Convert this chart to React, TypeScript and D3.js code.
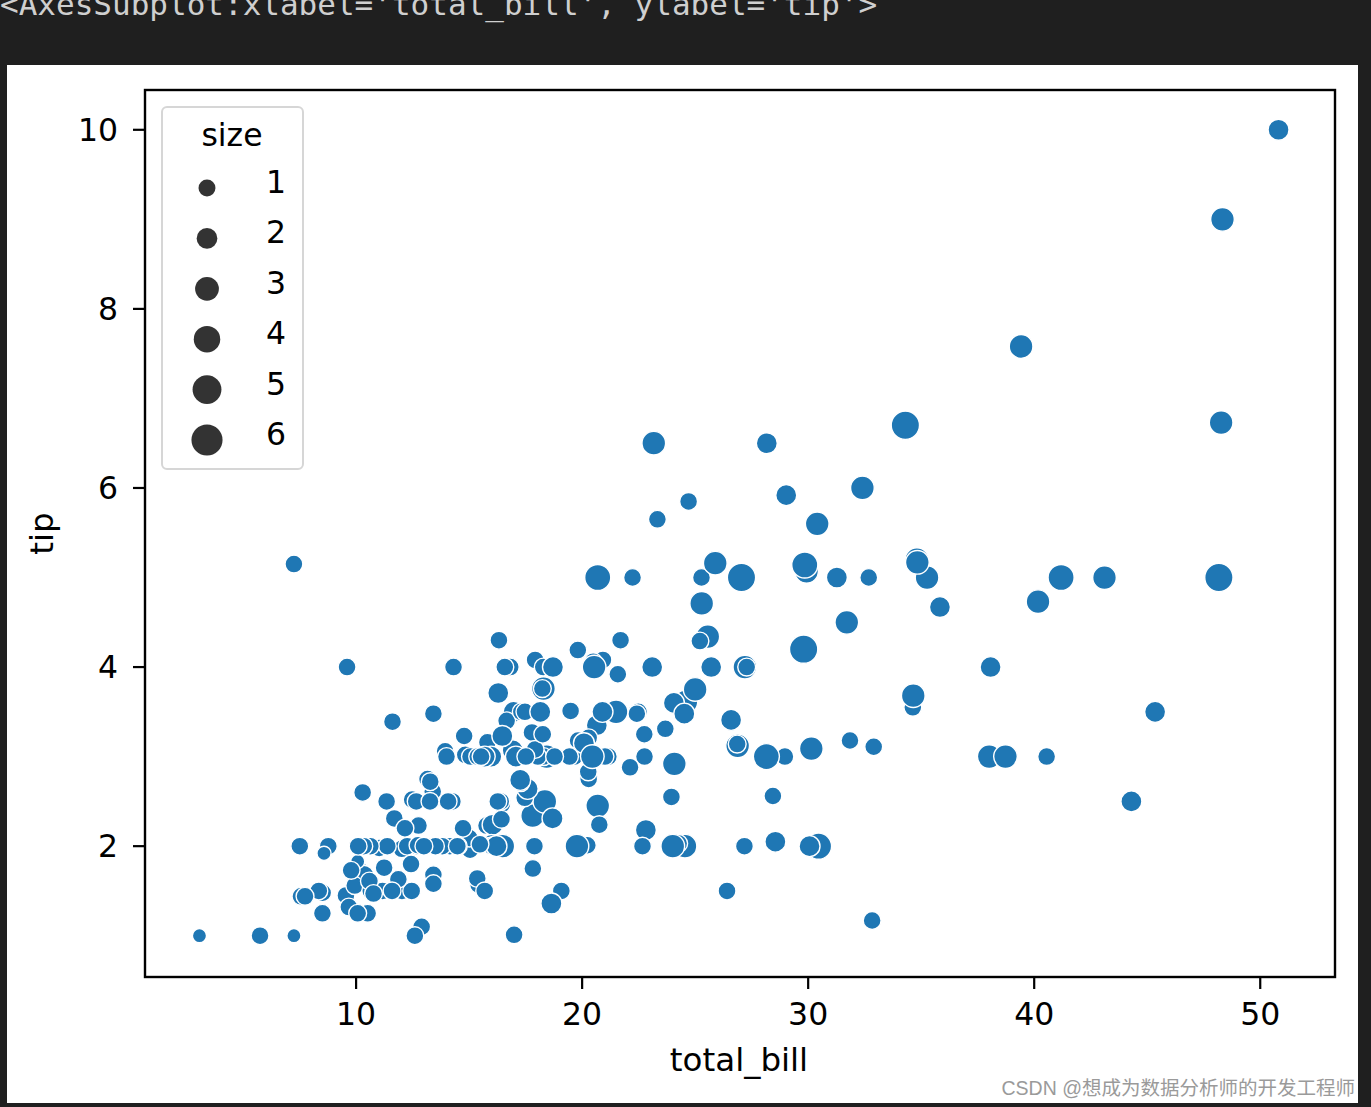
import React from "react";
import * as d3 from "d3";

const totalBill: number[] = [
  16.99, 10.34, 21.01, 23.68, 24.59, 25.29, 8.77, 26.88, 15.04, 14.78,
  10.27, 35.26, 15.42, 18.43, 14.83, 21.58, 10.33, 16.29, 16.97, 20.65,
  17.92, 20.29, 15.77, 39.42, 19.82, 17.81, 13.37, 12.69, 21.7, 19.65,
  9.55, 18.35, 15.06, 20.69, 17.78, 24.06, 16.31, 16.93, 18.69, 31.27,
  16.04, 17.46, 13.94, 9.68, 30.4, 18.29, 22.23, 32.4, 28.55, 18.04,
  12.54, 10.29, 34.81, 9.94, 25.56, 19.49, 38.01, 26.41, 11.24, 48.27,
  20.29, 13.81, 11.02, 18.29, 17.59, 20.08, 16.45, 3.07, 20.23, 15.01,
  12.02, 17.07, 26.86, 25.28, 14.73, 10.51, 17.92, 27.2, 22.76, 17.29,
  19.44, 16.66, 10.07, 32.68, 15.98, 34.83, 13.03, 18.28, 24.71, 21.16,
  28.97, 22.49, 5.75, 16.32, 22.75, 40.17, 27.28, 12.03, 21.01, 12.46,
  11.35, 15.38, 44.3, 22.42, 20.92, 15.36, 20.49, 25.21, 18.24, 14.31,
  14.0, 7.25, 38.07, 23.95, 25.71, 17.31, 29.93, 10.65, 12.43, 24.08,
  11.69, 13.42, 14.26, 15.95, 12.48, 29.8, 8.52, 14.52, 11.38, 22.82,
  19.08, 20.27, 11.17, 12.26, 18.26, 8.51, 10.33, 14.15, 16.0, 13.16,
  17.47, 34.3, 41.19, 27.05, 16.43, 8.35, 18.64, 11.87, 9.78, 7.51,
  14.07, 13.13, 17.26, 24.55, 19.77, 29.85, 48.17, 25.0, 13.39, 16.49,
  21.5, 12.66, 16.21, 13.81, 17.51, 24.52, 20.76, 31.71, 10.59, 10.63,
  50.81, 15.81, 7.25, 31.85, 16.82, 32.9, 17.89, 14.48, 9.6, 34.63,
  34.65, 23.33, 45.35, 23.17, 40.55, 20.69, 20.9, 30.46, 18.15, 23.1,
  15.69, 19.81, 28.44, 15.48, 16.58, 7.56, 10.34, 43.11, 13.0, 13.51,
  18.71, 12.74, 13.0, 16.4, 20.53, 16.47, 26.59, 38.73, 24.27, 12.76,
  30.06, 25.89, 48.33, 13.27, 28.17, 12.9, 28.15, 11.59, 7.74, 30.14,
  12.16, 13.42, 8.58, 15.98, 13.42, 16.27, 10.09, 20.45, 13.28, 22.12,
  24.01, 15.69, 11.61, 10.77, 15.53, 10.07, 12.6, 32.83, 35.83, 29.03,
  27.18, 22.67, 17.82, 18.78,
];

const tip: number[] = [
  1.01, 1.66, 3.5, 3.31, 3.61, 4.71, 2.0, 3.12, 1.96, 3.23,
  1.71, 5.0, 1.57, 3.0, 3.02, 3.92, 1.67, 3.71, 3.5, 3.35,
  4.08, 2.75, 2.23, 7.58, 3.18, 2.34, 2.0, 2.0, 4.3, 3.0,
  1.45, 2.5, 3.0, 2.45, 3.27, 3.6, 2.0, 3.07, 2.31, 5.0,
  2.24, 2.54, 3.06, 1.32, 5.6, 3.0, 5.0, 6.0, 2.05, 3.0,
  2.5, 2.6, 5.2, 1.56, 4.34, 3.51, 3.0, 1.5, 1.76, 6.73,
  3.21, 2.0, 1.98, 3.76, 2.64, 3.15, 2.47, 1.0, 2.01, 2.09,
  1.97, 3.0, 3.14, 5.0, 2.2, 1.25, 3.08, 4.0, 3.0, 2.71,
  3.0, 3.4, 1.83, 5.0, 2.03, 5.17, 2.0, 4.0, 5.85, 3.0,
  3.0, 3.5, 1.0, 4.3, 3.25, 4.73, 4.0, 1.5, 3.0, 1.5,
  2.5, 3.0, 2.5, 3.48, 4.08, 1.64, 4.06, 4.29, 3.76, 4.0,
  3.0, 1.0, 4.0, 2.55, 4.0, 3.5, 5.07, 1.5, 1.8, 2.92,
  2.31, 1.68, 2.5, 2.0, 2.52, 4.2, 1.48, 2.0, 2.0, 2.18,
  1.5, 2.83, 1.5, 2.0, 3.25, 1.25, 2.0, 2.0, 2.0, 2.75,
  3.5, 6.7, 5.0, 5.0, 2.3, 1.5, 1.36, 1.63, 1.73, 2.0,
  2.5, 2.0, 2.74, 2.0, 2.0, 5.14, 5.0, 3.75, 2.61, 2.0,
  3.5, 2.5, 2.0, 2.0, 3.0, 3.48, 2.24, 4.5, 1.61, 2.0,
  10.0, 3.16, 5.15, 3.18, 4.0, 3.11, 2.0, 2.0, 4.0, 3.55,
  3.68, 5.65, 3.5, 6.5, 3.0, 5.0, 3.5, 2.0, 3.5, 4.0,
  1.5, 4.19, 2.56, 2.02, 4.0, 1.44, 2.0, 5.0, 2.0, 2.0,
  4.0, 2.01, 2.0, 2.5, 4.0, 3.23, 3.41, 3.0, 2.03, 2.23,
  2.0, 5.16, 9.0, 2.5, 6.5, 1.1, 3.0, 1.5, 1.44, 3.09,
  2.2, 3.48, 1.92, 3.0, 1.58, 2.5, 2.0, 3.0, 2.72, 2.88,
  2.0, 3.0, 3.39, 1.47, 3.0, 1.25, 1.0, 1.17, 4.67, 5.92,
  2.0, 2.0, 1.75, 3.0,
];

const partySize: number[] = [
  2, 3, 3, 2, 4, 4, 2, 4, 2, 2,
  2, 4, 2, 4, 2, 2, 3, 3, 3, 3,
  2, 2, 2, 4, 2, 4, 2, 2, 2, 2,
  2, 4, 2, 4, 2, 3, 3, 3, 3, 3,
  3, 2, 2, 2, 4, 2, 2, 4, 3, 2,
  2, 2, 4, 2, 4, 2, 4, 2, 2, 4,
  2, 2, 2, 4, 3, 3, 2, 1, 2, 2,
  2, 3, 2, 2, 2, 2, 2, 4, 2, 2,
  2, 2, 1, 2, 2, 4, 2, 2, 2, 2,
  2, 2, 2, 2, 2, 4, 2, 2, 2, 2,
  2, 2, 3, 2, 2, 2, 2, 2, 2, 2,
  2, 1, 3, 2, 3, 2, 4, 2, 2, 4,
  2, 2, 2, 2, 2, 6, 2, 2, 2, 3,
  2, 2, 2, 2, 2, 2, 2, 2, 2, 2,
  2, 6, 5, 6, 2, 2, 3, 2, 2, 2,
  2, 2, 3, 4, 4, 5, 6, 4, 2, 4,
  4, 2, 3, 2, 2, 3, 2, 4, 2, 2,
  3, 2, 2, 2, 2, 2, 2, 2, 2, 2,
  4, 2, 3, 4, 2, 5, 3, 5, 3, 3,
  2, 2, 2, 2, 2, 2, 2, 4, 2, 2,
  3, 2, 2, 2, 4, 3, 3, 4, 2, 2,
  3, 4, 4, 2, 3, 2, 5, 2, 2, 4,
  2, 2, 1, 3, 2, 2, 2, 4, 2, 2,
  4, 3, 2, 2, 2, 2, 2, 2, 3, 3,
  2, 2, 2, 2,
];

const xTicks: number[] = [10, 20, 30, 40, 50];
const yTicks: number[] = [2, 4, 6, 8, 10];
const legendSizes: number[] = [1, 2, 3, 4, 5, 6];

const W = 1371;
const H = 1107;
const plot = { left: 145, right: 1335, top: 90, bottom: 977 };
const BLUE = "#1f77b4";
const FONT = "'DejaVu Sans', sans-serif";

export default function App() {
  const xExt = d3.extent(totalBill) as [number, number];
  const yExt = d3.extent(tip) as [number, number];
  const xPad = (xExt[1] - xExt[0]) * 0.05;
  const yPad = (yExt[1] - yExt[0]) * 0.05;
  const x = d3.scaleLinear().domain([xExt[0] - xPad, xExt[1] + xPad]).range([plot.left + 0.5, plot.right - 2.5]);
  const y = d3.scaleLinear().domain([yExt[0] - yPad, yExt[1] + yPad]).range([plot.bottom - 1, plot.top - 0.5]);
  // seaborn: marker area linear in size; diameter px = sqrt(areaFactor) * 20
  const area = d3.scaleLinear().domain([1, 6]).range([0.5, 2]);
  const radius = (s: number) => (Math.sqrt(area(s)) * 20) / 2;

  const pts = totalBill.map((b, i) => ({ b, t: tip[i], s: partySize[i] }));

  const legendX = 207;
  const legendY0 = 188;
  const legendStep = 50.4;

  return (
    <svg
      width={W}
      height={H}
      style={{ position: "absolute", left: 0, top: 0, display: "block" }}
      xmlns="http://www.w3.org/2000/svg"
    >
      <rect x={0} y={0} width={W} height={H} fill="#1f1f1f" />
      <text
        x={0}
        y={15}
        fill="#cfcfcf"
        fontFamily="'DejaVu Sans Mono', monospace"
        fontSize={31}
      >
        {"<AxesSubplot:xlabel='total_bill', ylabel='tip'>"}
      </text>
      <rect x={7} y={65} width={1351} height={1038} fill="#ffffff" />

      {/* points */}
      <g>
        {pts.map((p, i) => (
          <circle
            key={i}
            cx={x(p.b)}
            cy={y(p.t)}
            r={radius(p.s)}
            fill={BLUE}
            stroke="#ffffff"
            strokeWidth={1.4}
          />
        ))}
      </g>

      {/* frame */}
      <rect
        x={plot.left}
        y={plot.top}
        width={plot.right - plot.left}
        height={plot.bottom - plot.top}
        fill="none"
        stroke="#000"
        strokeWidth={2.4}
      />

      {/* axes */}
      <g fontFamily={FONT} fontSize={31.5} fill="#000">
        {xTicks.map((t) => (
          <g key={t}>
            <line x1={x(t)} x2={x(t)} y1={plot.bottom} y2={plot.bottom + 12} stroke="#000" strokeWidth={2.2} />
            <text x={x(t)} y={plot.bottom + 48} textAnchor="middle">
              {t}
            </text>
          </g>
        ))}
        {yTicks.map((t) => (
          <g key={t}>
            <line x1={plot.left - 12} x2={plot.left} y1={y(t)} y2={y(t)} stroke="#000" strokeWidth={2.2} />
            <text x={plot.left - 27} y={y(t)} textAnchor="end" dominantBaseline="central">
              {t}
            </text>
          </g>
        ))}
        <text x={739} y={1071} textAnchor="middle" fontSize={32.5}>
          total_bill
        </text>
        <text
          transform={`translate(${53},${(plot.top + plot.bottom) / 2}) rotate(-90)`}
          textAnchor="middle"
          fontSize={32.5}
        >
          tip
        </text>
      </g>

      {/* legend */}
      <g fontFamily={FONT} fontSize={31.5} fill="#000">
        <rect x={162} y={107} width={141} height={362} rx={5} fill="#ffffff" stroke="#d6d6d6" strokeWidth={2} />
        <text x={232} y={146} textAnchor="middle">
          size
        </text>
        {legendSizes.map((s, i) => (
          <g key={s}>
            <circle
              cx={legendX}
              cy={legendY0 + i * legendStep}
              r={radius(s) + 1.4}
              fill="#333333"
            />
            <text x={266} y={legendY0 + i * legendStep + 5}>
              {s}
            </text>
          </g>
        ))}
      </g>

      <text
        x={1355}
        y={1095}
        textAnchor="end"
        fill="#9a9a9a"
        fontFamily="'Liberation Sans', 'Noto Sans CJK SC', sans-serif"
        fontSize={19.5}
      >
        CSDN @想成为数据分析师的开发工程师
      </text>
    </svg>
  );
}
